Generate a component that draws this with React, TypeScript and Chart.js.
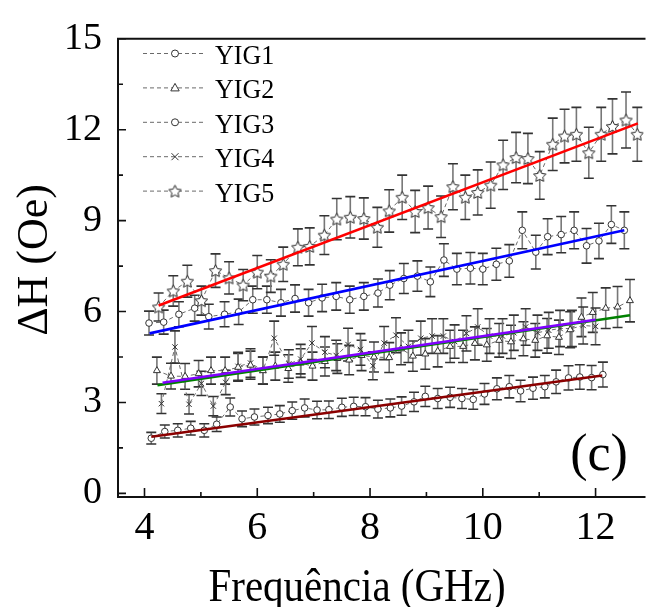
import React, { useEffect, useRef } from "react";
import { Chart, registerables } from "chart.js";
Chart.register(...registerables);

// ---- data ----
const YIG1_F = [4.12,4.36,4.59,4.82,5.06,5.28,5.52,5.73,5.95,6.19,6.40,6.62,6.84,7.06,7.27,7.50,7.71,7.92,8.14,8.36,8.56,8.78,8.98,9.20,9.42,9.63,9.83,10.03,10.25,10.47,10.67,10.89,11.10,11.30,11.52,11.72,11.93,12.13];
const YIG1_DH = [1.82,2.04,2.08,2.15,2.08,2.28,2.85,2.46,2.52,2.57,2.62,2.73,2.82,2.75,2.76,2.84,2.87,2.86,2.78,2.82,2.88,3.02,3.20,3.13,3.17,3.13,3.10,3.28,3.45,3.52,3.38,3.47,3.52,3.68,3.81,3.84,3.82,3.92];

const YIG2_F = [4.22,4.47,4.72,4.96,5.18,5.43,5.66,5.88,6.10,6.32,6.55,6.77,6.98,7.20,7.42,7.63,7.85,8.07,8.34,8.55,8.76,8.98,9.20,9.42,9.65,9.86,10.07,10.29,10.50,10.72,10.93,11.14,11.35,11.55,11.75,11.95,12.18,12.39,12.61];
const YIG2_DH = [4.05,3.87,3.86,3.95,4.05,4.05,4.16,4.23,4.05,4.20,4.12,4.30,4.20,4.35,4.45,4.40,4.55,4.50,4.48,4.77,4.53,4.60,4.69,4.85,4.85,4.95,4.90,5.05,5.00,5.10,5.05,5.20,5.15,5.40,5.81,5.97,6.11,6.15,6.36];

const YIG3_F = [4.08,4.34,4.61,4.89,5.14,5.42,5.67,5.92,6.17,6.42,6.67,6.91,7.15,7.40,7.64,7.89,8.14,8.35,8.60,8.84,9.07,9.31,9.54,9.78,10.00,10.24,10.47,10.70,10.94,11.15,11.39,11.62,11.84,12.06,12.28,12.51];
const YIG3_DH = [5.62,5.65,5.91,6.11,5.83,5.91,5.99,6.39,6.39,6.29,6.43,6.29,6.45,6.50,6.39,6.50,6.61,6.87,7.09,7.17,6.98,7.70,7.40,7.43,7.40,7.56,7.67,8.68,7.96,8.47,8.54,8.68,8.17,8.33,8.87,8.68];

const YIG4_F = [4.30,4.54,4.79,5.01,5.22,5.44,5.66,5.88,6.10,6.30,6.56,6.77,6.97,7.20,7.40,7.61,7.83,8.05,8.25,8.46,8.68,8.90,9.10,9.30,9.50,9.71,9.91,10.12,10.35,10.55,10.76,10.97,11.17,11.37,11.58,11.78,12.00];
const YIG4_DH = [2.96,4.83,2.94,3.63,2.88,3.66,4.19,4.30,4.05,5.12,4.27,4.43,4.96,4.66,4.55,4.91,4.75,4.21,4.96,5.22,4.85,5.12,5.19,5.19,5.01,5.28,5.49,5.19,5.19,5.30,5.49,5.30,5.38,5.44,5.44,5.54,5.51];

const YIG5_F = [4.25,4.51,4.76,5.01,5.26,5.50,5.75,6.00,6.24,6.46,6.72,6.93,7.19,7.41,7.65,7.89,8.13,8.34,8.57,8.80,9.03,9.26,9.47,9.69,9.91,10.14,10.36,10.59,10.80,11.01,11.24,11.45,11.66,11.88,12.10,12.30,12.54,12.74];
const YIG5_DH = [6.15,6.68,7.00,6.36,7.35,7.11,6.87,7.30,7.17,7.56,8.12,8.15,8.52,9.05,9.11,9.07,8.78,9.32,9.77,9.30,9.43,9.13,10.12,9.77,9.93,10.17,10.84,11.08,11.05,10.49,11.52,11.79,11.85,11.24,11.85,12.11,12.32,11.85];

// relative half-height of error bars, read per series
const YIG1_ERR = 0.105;
const YIG2_ERR = 0.11;
const YIG3_ERR = 0.07;
const YIG4_ERR = 0.11;
const YIG5_ERR = 0.075;

// linear fits: [start, end] as [GHz, Oe]
const FIT_YIG1 = [[4.12, 1.87], [12.12, 3.89]];
const FIT_YIG2 = [[4.23, 3.57], [12.61, 5.88]];
const FIT_YIG3 = [[4.09, 5.28], [12.51, 8.68]];
const FIT_YIG4 = [[4.32, 3.65], [12.0, 5.73]];
const FIT_YIG5 = [[4.25, 6.20], [12.75, 12.21]];

const SERIES_NAMES = ["YIG1", "YIG2", "YIG3", "YIG4", "YIG5"];

const X_MAJOR = [4, 6, 8, 10, 12];
const X_MINOR = [5, 7, 9, 11];
const Y_MAJOR = [0, 3, 6, 9, 12, 15];
const Y_MINOR = [1.5, 4.5, 7.5, 10.5, 13.5];

const X_MIN = 3.53, X_MAX = 12.85, Y_MIN = -0.12, Y_MAX = 15;

const SERIF = '"Liberation Serif", "Times New Roman", serif';

function makeStar(r: number) {
  const size = Math.ceil(r * 2 + 4);
  const c = document.createElement("canvas");
  c.width = size; c.height = size;
  const g = c.getContext("2d")!;
  const cx = size / 2, cy = size / 2 + 0.6;
  g.beginPath();
  for (let i = 0; i < 10; i++) {
    const rr = i % 2 === 0 ? r : r * 0.5;
    const a = -Math.PI / 2 + (i * Math.PI) / 5;
    const px = cx + rr * Math.cos(a), py = cy + rr * Math.sin(a);
    if (i === 0) g.moveTo(px, py); else g.lineTo(px, py);
  }
  g.closePath();
  g.fillStyle = "#fff";
  g.fill();
  g.lineWidth = 1.0;
  g.strokeStyle = "#222";
  g.stroke();
  return c;
}

function pts(f: number[], v: number[]) {
  return f.map((x, i) => ({ x, y: v[i] }));
}
function fitPts(a: number[][]) {
  return a.map(([x, y]) => ({ x, y }));
}

export default function App() {
  const ref = useRef<HTMLCanvasElement | null>(null);

  useEffect(() => {
    const canvas = ref.current!;
    const star = makeStar(6.5);
    const legendStar = makeStar(6.5);

    const dataDs = (label: string, f: number[], v: number[], errFrac: number, style: any, radius: number) => ({
      type: "scatter",
      label,
      data: pts(f, v),
      errors: v.map((y) => y * errFrac),
      showLine: true,
      borderColor: "#6a6a6a",
      borderWidth: 1,
      borderDash: [4, 3],
      pointStyle: style,
      pointRadius: radius,
      pointBorderColor: "#333",
      pointBackgroundColor: "#fff",
      pointBorderWidth: 1,
      order: 3,
    });
    const fitDs = (color: string, a: number[][], order: number) => ({
      type: "line",
      label: "fit",
      data: fitPts(a),
      borderColor: color,
      borderWidth: 2.6,
      pointRadius: 0,
      order,
    });

    const styles: any[] = ["circle", "triangle", "circle", "crossRot", legendStar];

    const errorBars = {
      id: "errorBars",
      beforeDatasetsDraw(chart: any) {
        const { ctx, chartArea, scales } = chart;
        const xs = scales.x, ys = scales.y;
        ctx.save();
        ctx.beginPath();
        ctx.rect(chartArea.left, chartArea.top, chartArea.right - chartArea.left, chartArea.bottom - chartArea.top);
        ctx.clip();
        chart.data.datasets.forEach((ds: any) => {
          if (!ds.errors) return;
          ds.data.forEach((p: any, j: number) => {
            const e = ds.errors[j];
            const px = xs.getPixelForValue(p.x);
            const yt = ys.getPixelForValue(p.y + e);
            const yb = ys.getPixelForValue(p.y - e);
            ctx.strokeStyle = "#777";
            ctx.lineWidth = 1.6;
            ctx.beginPath();
            ctx.moveTo(px, yt); ctx.lineTo(px, yb);
            ctx.stroke();
            ctx.strokeStyle = "#333";
            ctx.lineWidth = 1.6;
            ctx.beginPath();
            ctx.moveTo(px - 5, yt); ctx.lineTo(px + 5, yt);
            ctx.moveTo(px - 5, yb); ctx.lineTo(px + 5, yb);
            ctx.stroke();
          });
        });
        ctx.restore();
      },
    };

    const stretched = (ctx: CanvasRenderingContext2D, text: string, x: number, y: number, font: string, sy: number, align: CanvasTextAlign) => {
      ctx.save();
      ctx.translate(x, y);
      ctx.scale(1, sy);
      ctx.font = font;
      ctx.textAlign = align;
      ctx.textBaseline = "alphabetic";
      ctx.fillStyle = "#000";
      ctx.fillText(text, 0, 0);
      ctx.restore();
    };

    const frame = {
      id: "frame",
      afterDraw(chart: any) {
        const { ctx, chartArea, scales } = chart;
        const xs = scales.x, ys = scales.y;
        const L = chartArea.left, B = chartArea.bottom, T = chartArea.top, R = chartArea.right;
        ctx.save();
        ctx.strokeStyle = "#111";
        ctx.lineWidth = 2;
        ctx.beginPath();
        ctx.moveTo(L, T); ctx.lineTo(R + 2, T);
        ctx.moveTo(L, T - 1); ctx.lineTo(L, B + 1);
        ctx.moveTo(L - 1, B); ctx.lineTo(R + 2, B);
        ctx.stroke();
        ctx.lineWidth = 1.6;
        ctx.beginPath();
        X_MAJOR.forEach((v) => { const p = xs.getPixelForValue(v); ctx.moveTo(p, B); ctx.lineTo(p, B - 9); });
        X_MINOR.forEach((v) => { const p = xs.getPixelForValue(v); ctx.moveTo(p, B); ctx.lineTo(p, B - 5); });
        Y_MAJOR.forEach((v) => { const p = ys.getPixelForValue(v); ctx.moveTo(L, p); ctx.lineTo(L + 8, p); });
        Y_MINOR.forEach((v) => { const p = ys.getPixelForValue(v); ctx.moveTo(L, p); ctx.lineTo(L + 5, p); });
        ctx.stroke();

        // legend
        SERIES_NAMES.forEach((name, i) => {
          const yb = 64 + i * 34.4;
          const ym = yb - 10.5;
          ctx.save();
          ctx.strokeStyle = "#6a6a6a";
          ctx.lineWidth = 1;
          ctx.setLineDash([4, 3]);
          ctx.beginPath();
          ctx.moveTo(143, ym); ctx.lineTo(205, ym);
          ctx.stroke();
          ctx.setLineDash([]);
          ctx.strokeStyle = "#333";
          ctx.fillStyle = "#fff";
          ctx.lineWidth = 1;
          const mx = 175;
          const st = styles[i];
          if (st === "circle") {
            ctx.beginPath(); ctx.arc(mx, ym, 3.5, 0, Math.PI * 2); ctx.fill(); ctx.stroke();
          } else if (st === "triangle") {
            ctx.beginPath();
            ctx.moveTo(mx, ym - 4.5); ctx.lineTo(mx + 4.2, ym + 3); ctx.lineTo(mx - 4.2, ym + 3); ctx.closePath();
            ctx.fill(); ctx.stroke();
          } else if (st === "crossRot") {
            ctx.beginPath();
            ctx.moveTo(mx - 3.5, ym - 3.5); ctx.lineTo(mx + 3.5, ym + 3.5);
            ctx.moveTo(mx + 3.5, ym - 3.5); ctx.lineTo(mx - 3.5, ym + 3.5);
            ctx.stroke();
          } else {
            ctx.drawImage(st, mx - st.width / 2, ym - st.height / 2);
          }
          ctx.restore();
          stretched(ctx, name, 215, yb, `26px ${SERIF}`, 1.08, "left");
        });

        // axis titles and panel label
        stretched(ctx, "Frequência (GHz)", 357, 601, `41px ${SERIF}`, 1.12, "center");
        ctx.save();
        ctx.translate(47, 260);
        ctx.rotate(-Math.PI / 2);
        ctx.font = `44px ${SERIF}`;
        ctx.textAlign = "center";
        ctx.textBaseline = "alphabetic";
        ctx.fillStyle = "#000";
        ctx.fillText("ΔH (Oe)", 0, 0);
        ctx.restore();
        stretched(ctx, "(c)", 599, 470, `52px ${SERIF}`, 1.0, "center");
        ctx.restore();
      },
    };

    const chart = new Chart(canvas, {
      type: "scatter",
      data: {
        datasets: [
          fitDs("#8b0000", FIT_YIG1, 1),
          fitDs("#008000", FIT_YIG2, 1),
          fitDs("#0000ff", FIT_YIG3, 1),
          fitDs("#8000ff", FIT_YIG4, 0),
          fitDs("#ff0000", FIT_YIG5, 1),
          dataDs("YIG1", YIG1_F, YIG1_DH, YIG1_ERR, "circle", 3.3),
          dataDs("YIG2", YIG2_F, YIG2_DH, YIG2_ERR, "triangle", 4),
          dataDs("YIG3", YIG3_F, YIG3_DH, YIG3_ERR, "circle", 3.3),
          dataDs("YIG4", YIG4_F, YIG4_DH, YIG4_ERR, "crossRot", 3.8),
          dataDs("YIG5", YIG5_F, YIG5_DH, YIG5_ERR, star, 6.5),
        ] as any,
      },
      options: {
        animation: false,
        responsive: false,
        devicePixelRatio: 1,
        layout: { padding: { top: 22, right: 0, left: 0, bottom: 0 } },
        plugins: { legend: { display: false }, tooltip: { enabled: false } },
        scales: {
          x: {
            type: "linear",
            min: X_MIN,
            max: X_MAX,
            afterBuildTicks: (s: any) => { s.ticks = X_MAJOR.map((v) => ({ value: v })); },
            afterFit: (s: any) => { s.height = 110; },
            grid: { display: false, drawTicks: false },
            border: { display: false },
            ticks: {
              autoSkip: false,
              maxRotation: 0,
              padding: 7,
              color: "#000",
              font: { family: SERIF, size: 40 },
              callback: (v: any) => String(v),
            },
          },
          y: {
            type: "linear",
            min: Y_MIN,
            max: Y_MAX,
            afterBuildTicks: (s: any) => { s.ticks = Y_MAJOR.map((v) => ({ value: v })); },
            afterFit: (s: any) => { s.width = 118; },
            grid: { display: false, drawTicks: false },
            border: { display: false },
            ticks: {
              autoSkip: false,
              padding: 16,
              color: "#000",
              font: { family: SERIF, size: 38 },
              callback: (v: any) => String(v),
            },
          },
        },
      },
      plugins: [errorBars, frame],
    } as any);
    return () => chart.destroy();
  }, []);

  return (
    <div style={{ position: "fixed", left: 0, top: 0, width: 651, height: 607, background: "#fff" }}>
      <canvas ref={ref} width={651} height={607} style={{ display: "block", width: 651, height: 607 }} />
    </div>
  );
}
